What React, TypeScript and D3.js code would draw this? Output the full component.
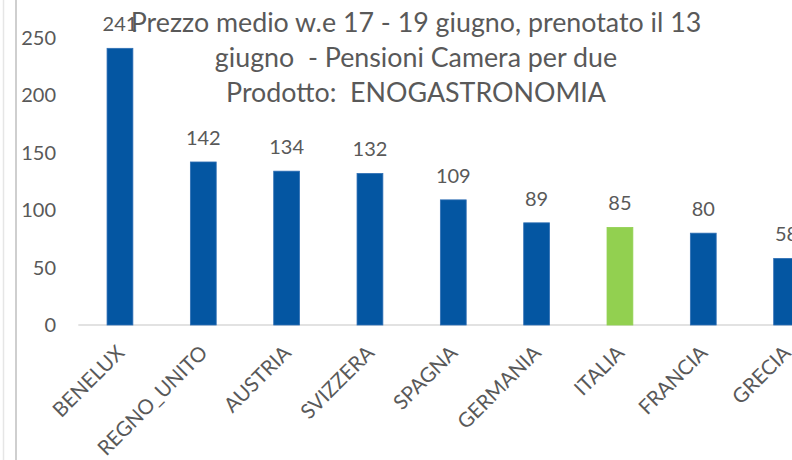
import React from "react";
import * as d3 from "d3";

const categories = ["BENELUX", "REGNO_UNITO", "AUSTRIA", "SVIZZERA", "SPAGNA", "GERMANIA", "ITALIA", "FRANCIA", "GRECIA"];
const values = [241, 142, 134, 132, 109, 89, 85, 80, 58];
const highlight = ["ITALIA"];
const yTicks = [0, 50, 100, 150, 200, 250];
const titleLines = [
  "Prezzo medio w.e 17 - 19 giugno, prenotato il 13",
  "giugno  - Pensioni Camera per due",
  "Prodotto:  ENOGASTRONOMIA",
];

const W = 792;
const H = 460;
const FONT = "Lato, 'Open Sans', sans-serif";
const TXT = "#595959";

export default function App() {
  const left = 78.3;
  const step = 83.33;
  const x = d3
    .scaleBand<string>()
    .domain(categories)
    .range([left, left + step * categories.length])
    .paddingInner(0.69)
    .paddingOuter(0.345);
  const y = d3.scaleLinear().domain([0, 250]).range([325, 38]);

  return (
    <svg width={W} height={H} style={{ position: "absolute", left: 0, top: 0, background: "#fff" }}>
      <rect x={0} y={0} width={W} height={H} fill="#fff" />
      <line x1={3.5} x2={3.5} y1={0} y2={H} stroke="#e6e6e6" strokeWidth={1.5} />
      <line x1={16} x2={16} y1={0} y2={H} stroke="#bfbfbf" strokeWidth={1.5} />
      <line x1={left} x2={W} y1={y(0)} y2={y(0)} stroke="#d9d9d9" strokeWidth={1.5} />
      {yTicks.map((t) => (
        <text key={t} x={56} y={y(t)} dy="0.35em" textAnchor="end" fontFamily={FONT} fontSize={20} fill={TXT}>
          {t}
        </text>
      ))}
      {categories.map((c, i) => {
        const v = values[i];
        const bx = x(c)!;
        const bw = x.bandwidth();
        return (
          <g key={c}>
            <rect
              x={bx}
              y={y(v)}
              width={bw}
              height={y(0) - y(v)}
              fill={highlight.includes(c) ? "#92d050" : "#0456a2"}
              stroke={highlight.includes(c) ? "#92d050" : "#2f6fb5"}
              strokeWidth={0.8}
            />
            <text x={bx + bw / 2} y={y(v) - 17} textAnchor="middle" fontFamily={FONT} fontSize={20} fill={TXT}>
              {v}
            </text>
            <text
              transform={`translate(${bx + bw / 2 + 0.5},${y(0) + 24}) rotate(-45)`}
              textAnchor="end"
              dy="0.35em"
              fontFamily={FONT}
              fontSize={20.5}
              fill={TXT}
            >
              {c}
            </text>
          </g>
        );
      })}
      {titleLines.map((l, i) => (
        <text
          key={i}
          x={416}
          y={32 + i * 35}
          textAnchor="middle"
          fontFamily={FONT}
          fontSize={26.8}
          fill={TXT}
          style={{ whiteSpace: "pre" }}
        >
          {l}
        </text>
      ))}
    </svg>
  );
}
